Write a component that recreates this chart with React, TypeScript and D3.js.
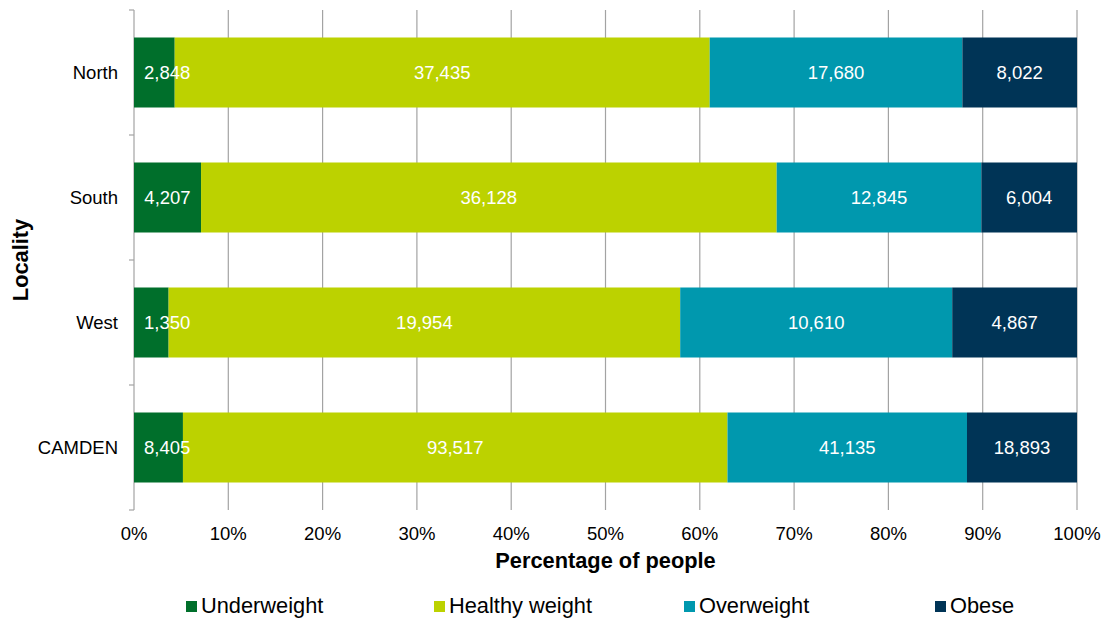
import React from "react";
import * as d3 from "d3";

// Localities, top to bottom
const localities = ["North", "South", "West", "CAMDEN"];

// Weight categories (stack order, left to right)
const categories = ["Underweight", "Healthy weight", "Overweight", "Obese"];

// Number of people per locality in each category
const underweight = [2848, 4207, 1350, 8405];
const healthyWeight = [37435, 36128, 19954, 93517];
const overweight = [17680, 12845, 10610, 41135];
const obese = [8022, 6004, 4867, 18893];

const xTicks = [0, 0.1, 0.2, 0.3, 0.4, 0.5, 0.6, 0.7, 0.8, 0.9, 1];

const colors = ["#006f2b", "#bcd200", "#0098ae", "#003456"];

const W = 1107;
const H = 618;
const plot = { left: 134, right: 1077, top: 10, bottom: 510 };
const FONT = "'Liberation Sans', Arial, sans-serif";

// rough Arial advance widths for the digit labels
function textWidth(s: string, size: number) {
  let w = 0;
  for (const ch of s) w += ch === "," ? 0.278 : 0.556;
  return w * size;
}

export default function App() {
  const rows = localities.map((name, i) => ({
    name,
    values: [underweight[i], healthyWeight[i], overweight[i], obese[i]],
  }));

  const x = d3.scaleLinear().domain([0, 1]).range([plot.left, plot.right]);
  const y = d3
    .scaleBand<string>()
    .domain(localities)
    .range([plot.top, plot.bottom])
    .paddingInner(0.44)
    .paddingOuter(0.22);

  const step = y.step();
  const fmt = d3.format(",");
  const pct = d3.format(".0%");
  const labelSize = 18.5;

  const segments = rows.flatMap((r) => {
    const total = d3.sum(r.values);
    let acc = 0;
    return r.values.map((v, k) => {
      const x0 = acc / total;
      acc += v;
      const x1 = acc / total;
      return { row: r.name, k, v, x0, x1 };
    });
  });

  const legendX = [186, 434, 684, 935];

  return (
    <svg
      width={W}
      height={H}
      style={{ position: "absolute", left: 0, top: 0, background: "#fff" }}
      fontFamily={FONT}
    >
      {/* vertical gridlines */}
      {xTicks.map((t) => (
        <line
          key={"g" + t}
          x1={x(t)}
          x2={x(t)}
          y1={plot.top}
          y2={plot.bottom}
          stroke="#a3a3a3"
          strokeWidth={1.2}
        />
      ))}
      {/* category tick marks */}
      {d3.range(localities.length + 1).map((i) => (
        <line
          key={"t" + i}
          x1={plot.left - 5}
          x2={plot.left}
          y1={plot.top + i * step}
          y2={plot.top + i * step}
          stroke="#a3a3a3"
          strokeWidth={1.2}
        />
      ))}

      {/* stacked bars */}
      {segments.map((s) => (
        <rect
          key={s.row + s.k}
          x={x(s.x0)}
          y={y(s.row)}
          width={x(s.x1) - x(s.x0)}
          height={y.bandwidth()}
          fill={colors[s.k]}
        />
      ))}

      {/* value labels */}
      {segments.map((s) => {
        const label = fmt(s.v);
        const w = textWidth(label, labelSize);
        const a = x(s.x0);
        const b = x(s.x1);
        const pad = 10;
        const cx = w + 2 * pad > b - a ? a + pad + w / 2 : (a + b) / 2;
        return (
          <text
            key={"l" + s.row + s.k}
            x={cx}
            y={(y(s.row) as number) + y.bandwidth() / 2}
            dy="0.36em"
            textAnchor="middle"
            fill="#ffffff"
            fontSize={labelSize}
          >
            {label}
          </text>
        );
      })}

      {/* locality labels */}
      {localities.map((name) => (
        <text
          key={"c" + name}
          x={118}
          y={(y(name) as number) + y.bandwidth() / 2}
          dy="0.36em"
          textAnchor="end"
          fontSize={18.5}
          fill="#000"
        >
          {name}
        </text>
      ))}

      {/* x tick labels */}
      {xTicks.map((t) => (
        <text
          key={"x" + t}
          x={x(t)}
          y={540}
          textAnchor="middle"
          fontSize={18.5}
          fill="#000"
        >
          {pct(t)}
        </text>
      ))}

      {/* axis titles */}
      <text
        x={(plot.left + plot.right) / 2}
        y={568}
        textAnchor="middle"
        fontSize={21.8}
        fontWeight="bold"
        fill="#000"
      >
        Percentage of people
      </text>
      <text
        transform={`translate(28,${(plot.top + plot.bottom) / 2}) rotate(-90)`}
        textAnchor="middle"
        fontSize={21.8}
        fontWeight="bold"
        fill="#000"
      >
        Locality
      </text>

      {/* legend */}
      {categories.map((c, k) => (
        <g key={"lg" + c} transform={`translate(${legendX[k]},0)`}>
          <rect x={0} y={601} width={11} height={11} fill={colors[k]} />
          <text x={15} y={613} fontSize={21.8} fill="#000">
            {c}
          </text>
        </g>
      ))}
    </svg>
  );
}
